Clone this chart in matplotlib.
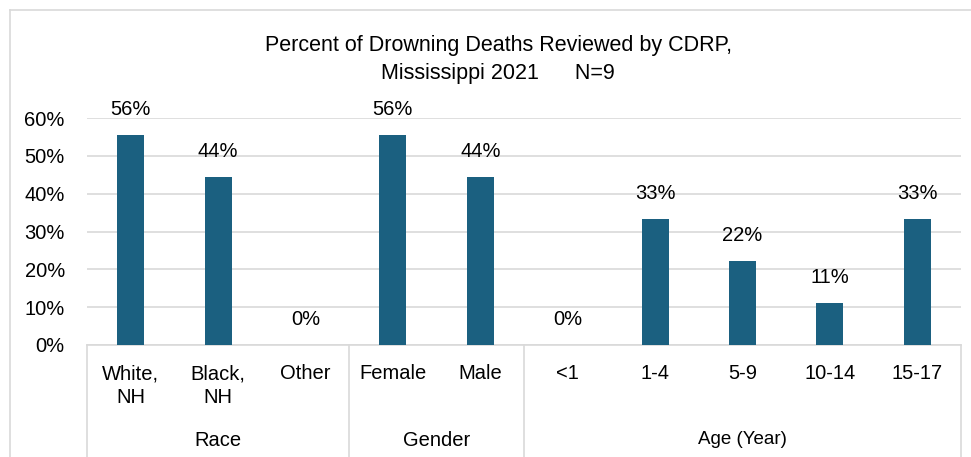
import matplotlib
matplotlib.use("Agg")
import matplotlib.pyplot as plt
import matplotlib.transforms as mtransforms
from matplotlib.lines import Line2D

categories = ["White,\nNH", "Black,\nNH", "Other", "Female", "Male", "<1", "1-4", "5-9", "10-14", "15-17"]
values = [55.6, 44.4, 0, 55.6, 44.4, 0, 33.3, 22.2, 11.1, 33.3]
labels = ["56%", "44%", "0%", "56%", "44%", "0%", "33%", "22%", "11%", "33%"]
groups = ["Race", "Gender", "Age (Year)"]
group_sizes = [3, 2, 5]
yticks = [0, 10, 20, 30, 40, 50, 60]
ytick_labels = ["0%", "10%", "20%", "30%", "40%", "50%", "60%"]

W, H = 971, 457
fig = plt.figure(figsize=(W / 100, H / 100), dpi=100)
FONT = ["Liberation Sans", "DejaVu Sans"]
BAR = "#1b6080"
GRID = "#d9d9d9"
FS = 14.5

ax = fig.add_axes([87 / W, 1 - 345 / H, (961 - 87) / W, (345 - 118) / H])
x = list(range(len(categories)))
ax.bar(x, values, width=0.31, color=BAR, zorder=3)
ax.set_xlim(-0.5, len(categories) - 0.5)
ax.set_ylim(0, 60)
ax.set_yticks(yticks)
ax.set_yticklabels(ytick_labels, family=FONT, fontsize=FS)
ax.tick_params(axis="y", length=0, pad=16)
ax.set_xticks([])
ax.grid(axis="y", color=GRID, linewidth=1.2, zorder=0)
for s in ["top", "right", "left"]:
    ax.spines[s].set_visible(False)
ax.spines["bottom"].set_color(GRID)
ax.spines["bottom"].set_linewidth(1.2)

for xi, v, lab in zip(x, values, labels):
    ax.annotate(lab, (xi, v), xytext=(0, 11.5), textcoords="offset points",
                ha="center", va="bottom", family=FONT, fontsize=FS)

trans = mtransforms.blended_transform_factory(ax.transData, fig.transFigure)
for xi, c in zip(x, categories):
    ax.text(xi, 1 - 364 / H, c, transform=trans, ha="center", va="top",
            family=FONT, fontsize=FS, linespacing=1.35)

start = -0.5
bounds = [start]
for g, n in zip(groups, group_sizes):
    end = start + n
    ax.text((start + end) / 2, 1 - 440 / H, g, transform=trans, ha="center", va="center",
            family=FONT, fontsize=(13.5 if g.startswith("Age") else FS))
    bounds.append(end)
    start = end
for b in bounds:
    ax.add_line(Line2D([b, b], [1 - 345 / H, 0], transform=trans, color=GRID,
                       linewidth=1.2, clip_on=False))

fig.text(498 / W, 1 - 45 / H, "Percent of Drowning Deaths Reviewed by CDRP,",
         ha="center", va="center", family=FONT, fontsize=15.5)
fig.text(498 / W, 1 - 73 / H, "Mississippi 2021      N=9",
         ha="center", va="center", family=FONT, fontsize=15.5)

fig.add_artist(Line2D([10 / W, 1], [1 - 10 / H, 1 - 10 / H], transform=fig.transFigure,
                      color=GRID, linewidth=1.2))
fig.add_artist(Line2D([10 / W, 10 / W], [1 - 10 / H, 0], transform=fig.transFigure,
                      color=GRID, linewidth=1.2))

fig.savefig("out.png", dpi=100)
